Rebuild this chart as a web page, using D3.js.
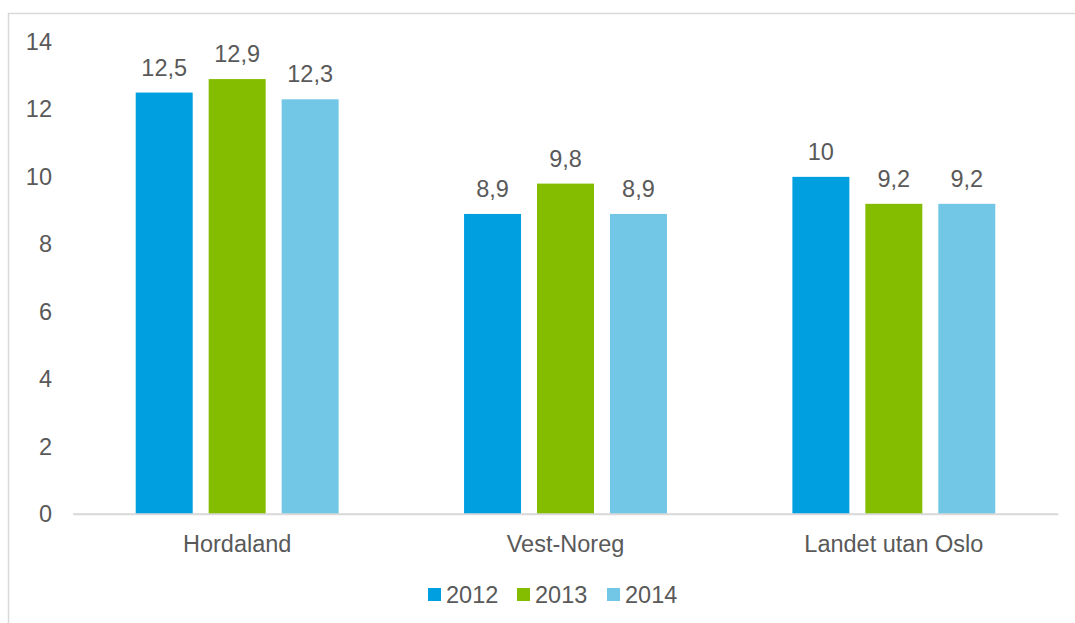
<!DOCTYPE html>
<html><head><meta charset="utf-8">
<script src="https://cdn.jsdelivr.net/npm/d3@7"></script>
<style>body{margin:0;background:#fff}svg{display:block}text{font-family:"Liberation Sans",Arial,sans-serif;fill:#595959}</style>
</head><body><svg id="c" width="1075" height="623"></svg>
<script>
const categories = ["Hordaland", "Vest-Noreg", "Landet utan Oslo"];
const seriesNames = ["2012", "2013", "2014"];
const values2012 = [12.5, 8.9, 10];
const values2013 = [12.9, 9.8, 9.2];
const values2014 = [12.3, 8.9, 9.2];
const yTicks = [0, 2, 4, 6, 8, 10, 12, 14];
const colors = ["#009FE0", "#84BC00", "#72C7E7"];

const series = [values2012, values2013, values2014];
const fmt = v => String(v).replace(".", ",");

const svg = d3.select("#c");
svg.append("rect").attr("x", 8.5).attr("y", 13.5).attr("width", 1200).attr("height", 800)
  .attr("fill", "none").attr("stroke", "#d9d9d9").attr("stroke-width", 1.5);

const y = d3.scaleLinear().domain([0, 14]).range([514, 42]);
const x0 = d3.scaleBand().domain(categories).range([73, 1058]).paddingInner(0.382).paddingOuter(0.191);
const x1 = d3.scaleBand().domain(seriesNames).range([0, x0.bandwidth()]).paddingInner(0.219).paddingOuter(0);

const fs = "23.5px";
// y axis labels
const yAxis = d3.axisLeft(y).tickValues(yTicks).tickSize(0).tickPadding(0).tickFormat(d => d);
const gy = svg.append("g").attr("transform", "translate(52,0)").call(yAxis);
gy.select(".domain").remove();
gy.selectAll("text").style("font-size", fs).attr("fill", "#595959").attr("font-family", '"Liberation Sans",Arial,sans-serif');

// x axis
const xAxis = d3.axisBottom(x0).tickSize(0).tickPadding(0);
const gx = svg.append("g").attr("transform", "translate(0,514)").call(xAxis);
gx.select(".domain").attr("stroke", "#d9d9d9").attr("stroke-width", 1.5);
gx.selectAll("text").attr("dy", null).attr("y", 38).style("font-size", fs).attr("fill", "#595959").attr("font-family", '"Liberation Sans",Arial,sans-serif');

// bars
const groups = svg.append("g").selectAll("g").data(categories).join("g")
  .attr("transform", d => `translate(${x0(d)},0)`);
groups.each(function(cat, ci) {
  const g = d3.select(this);
  seriesNames.forEach((s, si) => {
    const v = series[si][ci];
    g.append("rect").attr("x", x1(s)).attr("width", x1.bandwidth())
      .attr("y", y(v)).attr("height", y(0) - y(v)).attr("fill", colors[si]);
    g.append("text").attr("x", x1(s) + x1.bandwidth() / 2).attr("y", y(v) - 17)
      .attr("text-anchor", "middle").style("font-size", fs).text(fmt(v));
  });
});
// redraw baseline above bars
svg.append("line").attr("x1", 73).attr("x2", 1058).attr("y1", 514).attr("y2", 514)
  .attr("stroke", "#d9d9d9").attr("stroke-width", 1.5);

// legend
const legX = [428, 517, 607];
const leg = svg.append("g");
seriesNames.forEach((s, i) => {
  leg.append("rect").attr("x", legX[i]).attr("y", 588).attr("width", 13).attr("height", 13).attr("fill", colors[i]);
  leg.append("text").attr("x", legX[i] + 18).attr("y", 602.5).style("font-size", fs).text(s);
});
</script></body></html>
